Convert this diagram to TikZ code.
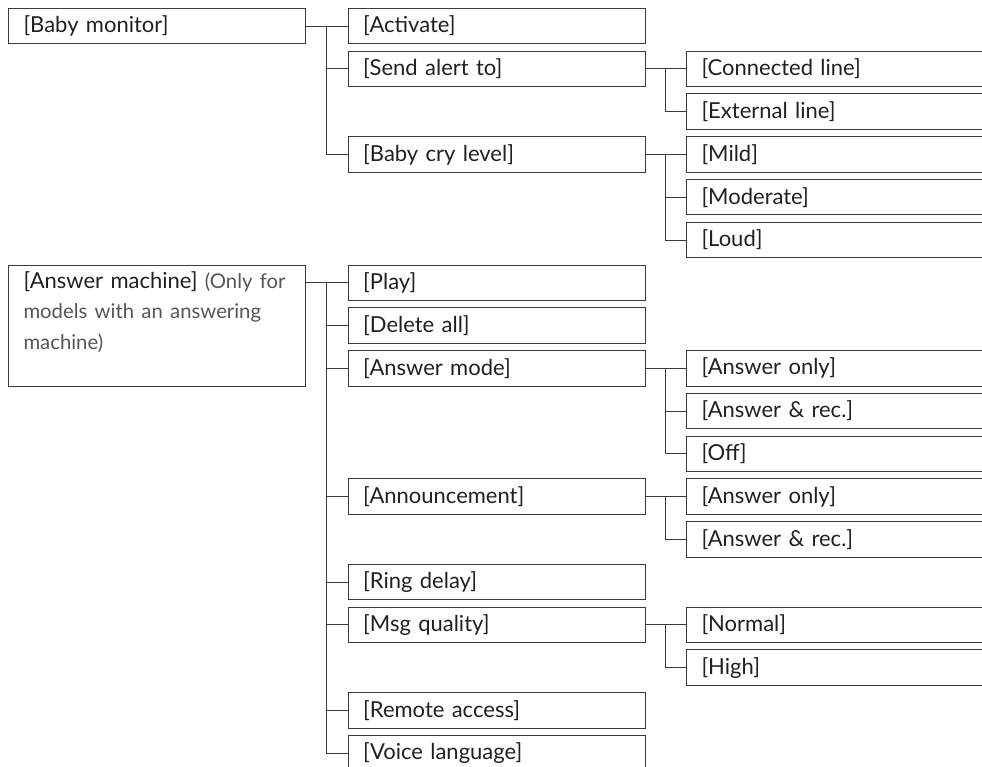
\documentclass[tikz,border=0pt]{standalone}
\usepackage{fontspec}
\setmainfont{Lato}
\usetikzlibrary{positioning}
\definecolor{LineGray}{RGB}{58,58,58}
\definecolor{InkBlack}{RGB}{35,31,32}
\definecolor{NoteGray}{RGB}{85,85,85}
\newcommand{\notefont}{\fontsize{20.3}{30.5}\selectfont\color{NoteGray}}

\begin{document}
\begin{tikzpicture}[
    x=1pt, y=-42.77pt,
    item/.style={rectangle, draw=LineGray, line width=1pt, anchor=north west,
        minimum width=296.8pt, minimum height=35.5pt, inner xsep=15pt, inner ysep=0pt,
        text width=266.8pt, align=left, text=InkBlack, font=\fontsize{22}{30.5}\selectfont},
    link/.style={draw=LineGray, line width=1pt}
]
\clip (0pt,0pt) rectangle (982pt,-766pt);

\begin{scope}[yshift=-7.9pt]
% Main menus
\node[item] (bm) at (8,0) {[Baby monitor]};
\node[item, minimum height=121pt] (am) at (8,6) {[Answer machine] {\notefont(Only for}\\
    {\notefont models with an answering}\\
    {\notefont machine)}\rule[-30pt]{0pt}{0pt}};

% Sub menus
\foreach \name/\row/\txt in {act/0/Activate, send/1/Send alert to, cry/3/Baby cry level,
    play/6/Play, del/7/Delete all, mode/8/Answer mode, ann/11/Announcement,
    ring/13/Ring delay, qual/14/Msg quality, remote/16/Remote access, voice/17/Voice language}
  \node[item] (\name) at (347.7,\row) {[\txt]};

% Options
\foreach \name/\row/\txt in {conn/1/Connected line, ext/2/External line,
    mild/3/Mild, moder/4/Moderate, loud/5/Loud,
    monly/8/Answer only, mrec/9/Answer \& rec., off/10/Off,
    aonly/11/Answer only, arec/12/Answer \& rec.,
    norm/14/Normal, high/15/High}
  \node[item] (\name) at (686,\row) {[\txt]};

\coordinate (busA) at (326.5,0);
\coordinate (busB) at (665,0);
\end{scope}

% Baby monitor
\draw[link] (bm) -- (act);
\draw[link] (busA |- act.west) |- (cry.west);
\draw[link] (busA |- send.west) -- (send.west);

\draw[link] (send) -- (conn);
\draw[link] (busB |- conn.west) |- (ext.west);

\draw[link] (cry) -- (mild);
\draw[link] (busB |- mild.west) |- (loud.west);
\draw[link] (busB |- moder.west) -- (moder.west);

% Answer machine
\draw[link] (am.east |- play.west) -- (play.west);
\draw[link] (busA |- play.west) |- (voice.west);
\foreach \sub in {del, mode, ann, ring, qual, remote}
  \draw[link] (busA |- \sub.west) -- (\sub.west);

\draw[link] (mode) -- (monly);
\draw[link] (busB |- monly.west) |- (off.west);
\draw[link] (busB |- mrec.west) -- (mrec.west);

\draw[link] (ann) -- (aonly);
\draw[link] (busB |- aonly.west) |- (arec.west);

\draw[link] (qual) -- (norm);
\draw[link] (busB |- norm.west) |- (high.west);

\end{tikzpicture}
\end{document}
